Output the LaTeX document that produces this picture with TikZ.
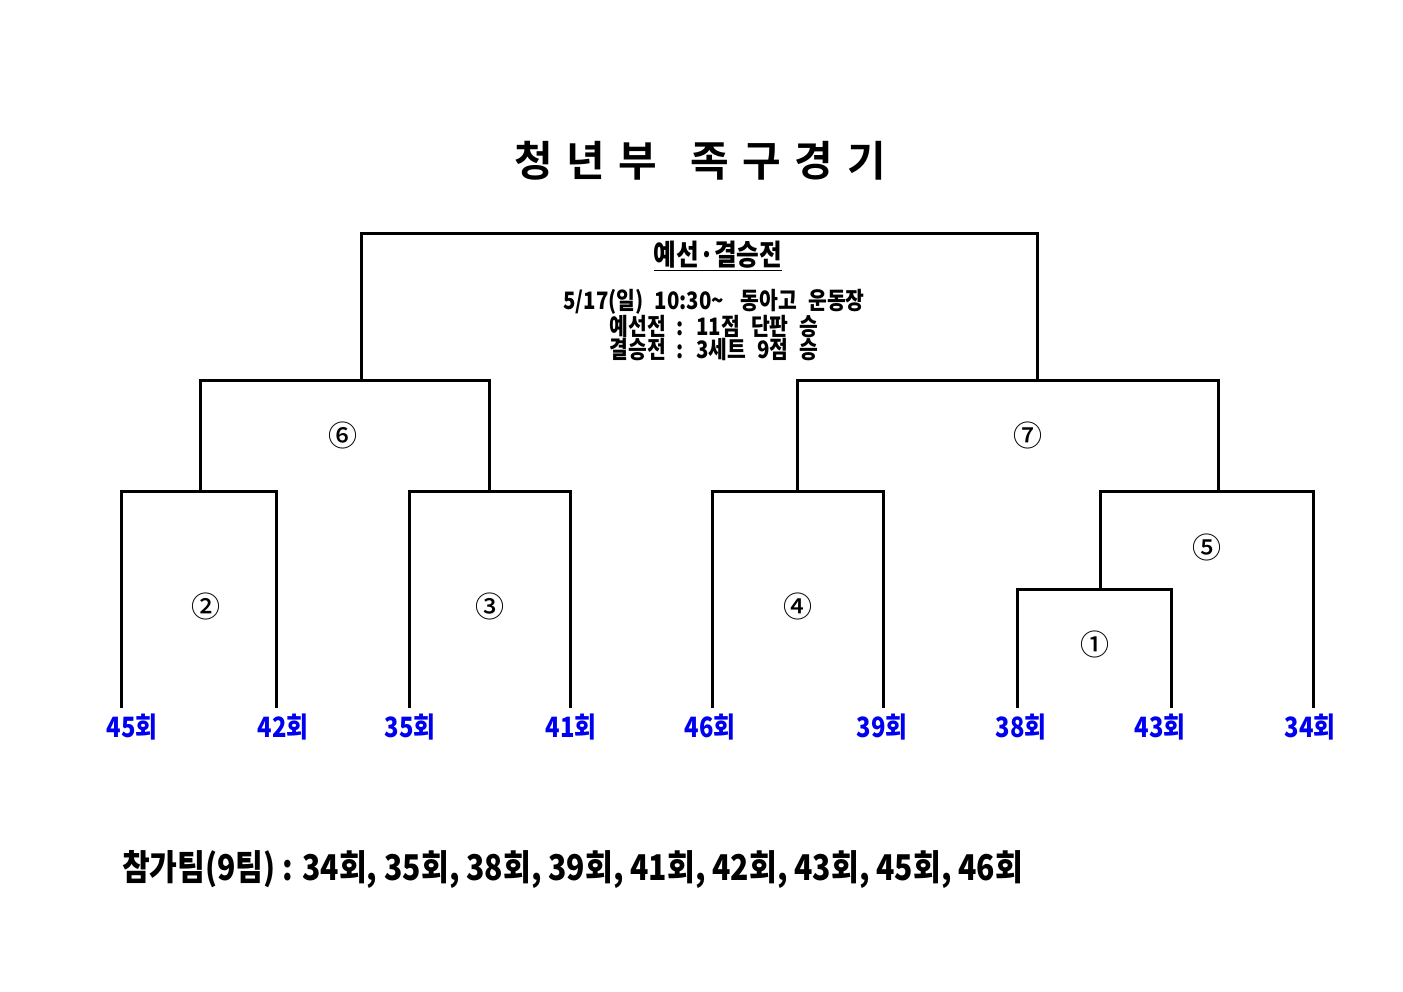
\documentclass[tikz,border=0pt]{standalone}
\usepackage{fontspec}
\newfontfamily\hdfont[FakeStretch=0.85]{Noto Sans CJK KR Black}
\newfontfamily\ttlfont{Noto Sans CJK KR Bold}
\newfontfamily\circfont{Noto Sans CJK KR Medium}
\definecolor{lblue}{RGB}{0,0,240}
\newcommand{\wsp}{\spaceskip=11pt\relax}
\tikzset{
  bracket/.style={line width=3pt, line join=miter},
  team/.style={font=\hdfont\fontsize{28pt}{30pt}\selectfont, text=lblue, inner sep=0pt, anchor=base},
  gamenum/.style={font=\circfont\fontsize{29pt}{31pt}\selectfont, inner sep=0pt},
}
\begin{document}
\begin{tikzpicture}[x=1pt,y=-1pt]
\fill[white] (0,0) rectangle (1403,992);
\useasboundingbox (0,0) rectangle (1403,992);

% title
\node[font=\ttlfont\fontsize{42pt}{44pt}\selectfont, inner sep=0pt] (title) at (700,161)
  {\spaceskip=13.5pt 청 년 부\hspace{20pt} 족 구 경 기};

% final box
\coordinate (a1) at (361,380); \coordinate (a2) at (361,234);
\coordinate (a3) at (1037,234); \coordinate (a4) at (1037,380);
\draw[bracket] (a1) -- (a2) -- (a3) -- (a4);
\node[font=\hdfont\fontsize{29pt}{31pt}\selectfont, inner sep=0pt] (head) at (718,256) {\underline{예선·결승전}};
\node[font=\hdfont\fontsize{24pt}{23pt}\selectfont, inner sep=0pt, align=center] (info) at (714,325)
  {\wsp 5/17(일) 10:30\textasciitilde{}\hspace{6pt} 동아고 운동장\\\wsp 예선전 : 11점 단판 승\\\wsp 결승전 : 3세트 9점 승};

% semifinal brackets
\coordinate (b1) at (200,491); \coordinate (b2) at (200,380);
\coordinate (b3) at (489,380); \coordinate (b4) at (489,491);
\draw[bracket] (b1) -- (b2) -- (b3) -- (b4);
\coordinate (c1) at (797,491); \coordinate (c2) at (797,380);
\coordinate (c3) at (1218,380); \coordinate (c4) at (1218,491);
\draw[bracket] (c1) -- (c2) -- (c3) -- (c4);

% first round brackets
\coordinate (t45) at (121,708); \coordinate (d1) at (121,491);
\coordinate (d2) at (276,491); \coordinate (t42) at (276,708);
\draw[bracket] (t45) -- (d1) -- (d2) -- (t42);
\coordinate (t35) at (409,708); \coordinate (e1) at (409,491);
\coordinate (e2) at (570,491); \coordinate (t41) at (570,708);
\draw[bracket] (t35) -- (e1) -- (e2) -- (t41);
\coordinate (t46) at (712,708); \coordinate (f1) at (712,491);
\coordinate (f2) at (883,491); \coordinate (t39) at (883,708);
\draw[bracket] (t46) -- (f1) -- (f2) -- (t39);
\coordinate (g0) at (1100,589); \coordinate (g1) at (1100,491);
\coordinate (g2) at (1313,491); \coordinate (t34) at (1313,708);
\draw[bracket] (g0) -- (g1) -- (g2) -- (t34);
\coordinate (t38) at (1017,708); \coordinate (h1) at (1017,589);
\coordinate (h2) at (1171,589); \coordinate (t43) at (1171,708);
\draw[bracket] (t38) -- (h1) -- (h2) -- (t43);

% game numbers
\node[gamenum] (n6) at (343,435) {⑥};
\node[gamenum] (n7) at (1028,435) {⑦};
\node[gamenum] (n2) at (206,606) {②};
\node[gamenum] (n3) at (490,606) {③};
\node[gamenum] (n4) at (798,606) {④};
\node[gamenum] (n5) at (1207,547) {⑤};
\node[gamenum] (n1) at (1095,644) {①};

% teams
\node[team] (L45) at (132,737) {45회};
\node[team] (L42) at (283,737) {42회};
\node[team] (L35) at (410,737) {35회};
\node[team] (L41) at (571,737) {41회};
\node[team] (L46) at (710,737) {46회};
\node[team] (L39) at (882,737) {39회};
\node[team] (L38) at (1021,737) {38회};
\node[team] (L43) at (1160,737) {43회};
\node[team] (L34) at (1310,737) {34회};

% participants
\node[font=\hdfont\fontsize{35.5pt}{38pt}\selectfont, inner sep=0pt, anchor=base west] (part) at (122,880)
  {참가팀(9팀) : 34회, 35회, 38회, 39회, 41회, 42회, 43회, 45회, 46회};
\end{tikzpicture}
\end{document}
